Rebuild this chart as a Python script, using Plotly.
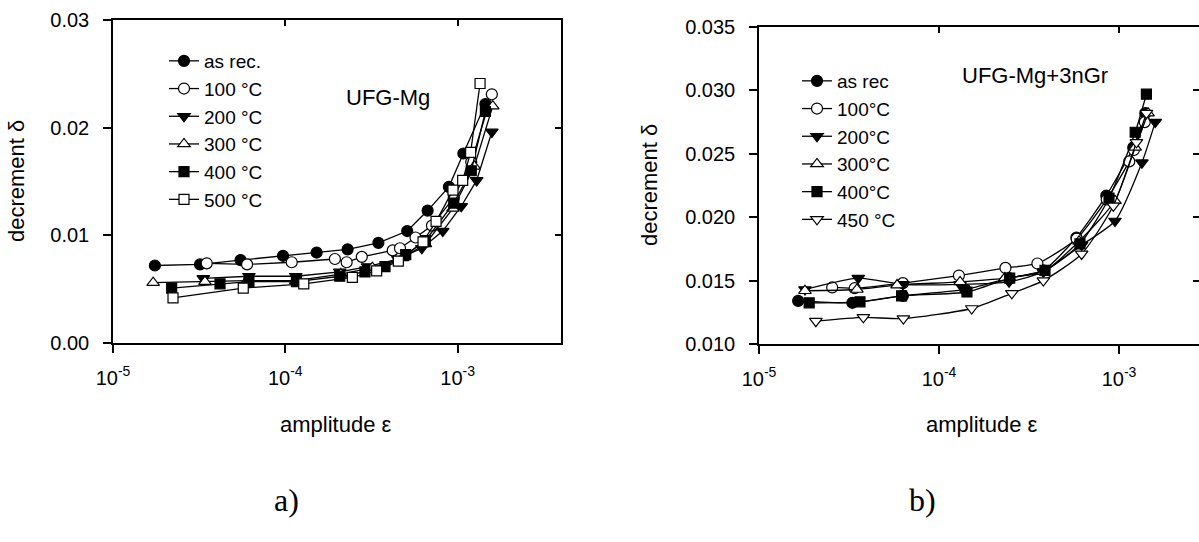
import plotly.graph_objects as go

W, H = 1199, 542

# ---------------- data: panel a) UFG-Mg ----------------
a_names = ["as rec.", "100 °C", "200 °C", "300 °C", "400 °C", "500 °C"]

a_asrec_x = [1.75e-5, 3.2e-5, 5.5e-5, 9.7e-5, 1.52e-4, 2.3e-4, 3.47e-4, 5.1e-4, 6.7e-4, 8.9e-4, 1.08e-3, 1.45e-3]
a_asrec_y = [0.0072, 0.0073, 0.0077, 0.0081, 0.0084, 0.0087, 0.0093, 0.0104, 0.0123, 0.0145, 0.0176, 0.0222]

a_100_x = [3.5e-5, 6.0e-5, 1.09e-4, 1.94e-4, 2.27e-4, 2.78e-4, 4.2e-4, 4.63e-4, 5.7e-4, 7.1e-4, 9.5e-4, 1.2e-3, 1.58e-3]
a_100_y = [0.0074, 0.0073, 0.0075, 0.0078, 0.0075, 0.0080, 0.0086, 0.0088, 0.0098, 0.0109, 0.0135, 0.0168, 0.0231]

a_200_x = [3.34e-5, 6.15e-5, 1.15e-4, 2.07e-4, 3.0e-4, 4.5e-4, 6.2e-4, 8.2e-4, 1.05e-3, 1.29e-3, 1.58e-3]
a_200_y = [0.0060, 0.0062, 0.0062, 0.0066, 0.0071, 0.0078, 0.0088, 0.0104, 0.0127, 0.0151, 0.0196]

a_300_x = [1.71e-5, 3.42e-5, 6.0e-5, 1.15e-4, 2.1e-4, 3.2e-4, 4.8e-4, 6.5e-4, 9.4e-4, 1.25e-3, 1.6e-3]
a_300_y = [0.0056, 0.0057, 0.0058, 0.0058, 0.0064, 0.0070, 0.0079, 0.0092, 0.0125, 0.0164, 0.0220]

a_400_x = [2.19e-5, 4.18e-5, 6.15e-5, 1.16e-4, 2.07e-4, 2.9e-4, 3.79e-4, 5.0e-4, 6.5e-4, 9.5e-4, 1.2e-3, 1.45e-3]
a_400_y = [0.0051, 0.0055, 0.0057, 0.0057, 0.0062, 0.0066, 0.0071, 0.0082, 0.0095, 0.0130, 0.0160, 0.0215]

a_500_x = [2.23e-5, 5.7e-5, 1.28e-4, 2.45e-4, 3.39e-4, 4.53e-4, 6.3e-4, 7.5e-4, 9.4e-4, 1.07e-3, 1.19e-3, 1.35e-3]
a_500_y = [0.0042, 0.0051, 0.0055, 0.0061, 0.0067, 0.0076, 0.0094, 0.0113, 0.0142, 0.0151, 0.0177, 0.0241]

# ---------------- data: panel b) UFG-Mg+3nGr ----------------
b_names = ["as rec", "100°C", "200°C", "300°C", "400°C", "450 °C"]

b_asrec_x = [1.65e-5, 3.3e-5, 6.3e-5, 1.4e-4, 2.45e-4, 3.8e-4, 5.8e-4, 8.5e-4, 1.2e-3, 1.4e-3]
b_asrec_y = [0.0134, 0.01325, 0.0138, 0.0143, 0.0152, 0.0158, 0.0184, 0.0217, 0.0255, 0.0282]

b_100_x = [2.55e-5, 3.4e-5, 6.3e-5, 1.29e-4, 2.34e-4, 3.52e-4, 5.82e-4, 8.55e-4, 1.14e-3, 1.21e-3, 1.39e-3]
b_100_y = [0.01446, 0.0144, 0.0148, 0.0154, 0.0160, 0.01635, 0.0183, 0.0214, 0.0244, 0.0253, 0.0275]

b_200_x = [1.8e-5, 3.56e-5, 6.3e-5, 1.31e-4, 2.45e-4, 3.8e-4, 6.2e-4, 9.5e-4, 1.34e-3, 1.59e-3]
b_200_y = [0.0143, 0.0152, 0.0147, 0.0147, 0.0149, 0.0157, 0.0178, 0.0197, 0.0243, 0.0275]

b_300_x = [1.8e-5, 3.5e-5, 5.85e-5, 1.31e-4, 2.32e-4, 3.8e-4, 6.0e-4, 9.5e-4, 1.23e-3, 1.45e-3]
b_300_y = [0.0142, 0.0143, 0.01465, 0.0149, 0.0152, 0.0157, 0.0181, 0.0213, 0.0255, 0.0282]

b_400_x = [1.9e-5, 3.64e-5, 6.2e-5, 1.43e-4, 2.47e-4, 3.88e-4, 6.07e-4, 8.8e-4, 1.23e-3, 1.42e-3]
b_400_y = [0.01325, 0.01333, 0.0138, 0.0141, 0.0152, 0.0158, 0.0179, 0.0215, 0.0267, 0.0297]

b_450_x = [2.07e-5, 3.8e-5, 6.34e-5, 1.52e-4, 2.54e-4, 3.8e-4, 6.2e-4, 9.3e-4, 1.25e-3, 1.42e-3]
b_450_y = [0.0118, 0.0121, 0.0120, 0.0128, 0.0140, 0.0150, 0.0171, 0.0209, 0.0259, 0.0282]

x_tickvals = [1e-5, 1e-4, 1e-3]
x_ticktext = ["10<sup>-5</sup>", "10<sup>-4</sup>", "10<sup>-3</sup>"]
a_yticks = [0.0, 0.01, 0.02, 0.03]
b_yticks = [0.010, 0.015, 0.020, 0.025, 0.030, 0.035]

FONT = "Liberation Sans, Arial, sans-serif"

a_series = [(a_asrec_x, a_asrec_y), (a_100_x, a_100_y), (a_200_x, a_200_y),
            (a_300_x, a_300_y), (a_400_x, a_400_y), (a_500_x, a_500_y)]
b_series = [(b_asrec_x, b_asrec_y), (b_100_x, b_100_y), (b_200_x, b_200_y),
            (b_300_x, b_300_y), (b_400_x, b_400_y), (b_450_x, b_450_y)]

a_styles = [("circle", "black"), ("circle", "white"), ("triangle-down", "black"),
            ("triangle-up", "white"), ("square", "black"), ("square", "white")]
b_styles = [("circle", "black"), ("circle", "white"), ("triangle-down", "black"),
            ("triangle-up", "white"), ("square", "black"), ("triangle-down", "white")]

fig = go.Figure()

def add_series(series, names, styles, xa, ya, legend, shape):
    for (xs, ys), nm, (sym, col) in zip(series, names, styles):
        size = 10 if sym == "square" else 11
        fig.add_trace(go.Scatter(
            x=xs, y=ys, name=nm, mode="lines+markers",
            xaxis=xa, yaxis=ya, legend=legend,
            line=dict(color="black", width=1.3, shape=shape, smoothing=0.6),
            marker=dict(symbol=sym, color=col, size=size,
                        line=dict(color="black", width=1.2)),
        ))

add_series(a_series, a_names, a_styles, "x", "y", "legend", "linear")
add_series(b_series, b_names, b_styles, "x2", "y2", "legend2", "spline")

# invisible helper traces so that the mirror (inside-tick) axes are drawn
fig.add_trace(go.Scatter(x=[1e-4], y=[0.015], xaxis="x3", yaxis="y3", mode="markers",
                         marker=dict(opacity=0), showlegend=False, hoverinfo="skip"))
fig.add_trace(go.Scatter(x=[1e-4], y=[0.02], xaxis="x4", yaxis="y4", mode="markers",
                         marker=dict(opacity=0), showlegend=False, hoverinfo="skip"))

tickfont = dict(family=FONT, size=20, color="black")
a_xrange = [-5, -5 + (561 - 113) / 172.3]
b_xrange = [-5, -5 + (1199 - 759) / 180.0]
a_xdom = [113 / W, 561 / W]
b_xdom = [759 / W, 1.0]
a_ydom = [1 - 343 / H, 1 - 20 / H]
b_ydom = [1 - 344 / H, 1 - 27 / H]

common_x = dict(type="log", tickvals=x_tickvals, ticktext=x_ticktext, ticks="outside",
                ticklen=8, tickwidth=1.5, tickcolor="black", showline=True, linecolor="black",
                linewidth=1.5, showgrid=False, zeroline=False, tickfont=tickfont,
                ticklabelstandoff=8, automargin=False)
common_y = dict(ticks="outside", ticklen=8, tickwidth=1.5, tickcolor="black", showline=True,
                linecolor="black", linewidth=1.5, showgrid=False, zeroline=False,
                tickfont=tickfont, ticklabelstandoff=10, automargin=False)
mirror_x = dict(type="log", tickvals=x_tickvals, ticks="inside", ticklen=6, tickwidth=1.5,
                tickcolor="black", showticklabels=False, showgrid=False, zeroline=False,
                showline=True, linecolor="black", linewidth=1.5, automargin=False)
mirror_y = dict(ticks="inside", ticklen=6, tickwidth=1.5, tickcolor="black",
                showticklabels=False, showgrid=False, zeroline=False,
                linecolor="black", linewidth=1.5, automargin=False)

fig.update_layout(
    width=W, height=H, paper_bgcolor="white", plot_bgcolor="white",
    margin=dict(l=0, r=0, t=0, b=0, autoexpand=False), showlegend=True,
    font=dict(family=FONT, size=20, color="black"),
    xaxis=dict(domain=a_xdom, range=a_xrange, anchor="y", **common_x),
    yaxis=dict(domain=a_ydom, range=[0, 0.03], anchor="x", tickvals=a_yticks,
               tickformat=".2f", **common_y),
    xaxis2=dict(domain=b_xdom, range=b_xrange, anchor="y2", **common_x),
    yaxis2=dict(domain=b_ydom, range=[0.010, 0.035], anchor="x2", tickvals=b_yticks,
                tickformat=".3f", **common_y),
    xaxis3=dict(overlaying="x", side="top", anchor="y", range=a_xrange, **mirror_x),
    yaxis3=dict(overlaying="y", side="right", anchor="x", range=[0, 0.03],
                tickvals=a_yticks, showline=True, **mirror_y),
    xaxis4=dict(overlaying="x2", side="top", anchor="y2", range=b_xrange, **mirror_x),
    yaxis4=dict(overlaying="y2", side="right", anchor="x2", range=[0.010, 0.035],
                tickvals=b_yticks, showline=False, **mirror_y),
    legend=dict(x=164 / W, y=1 - 42 / H, xanchor="left", yanchor="top",
                bgcolor="rgba(0,0,0,0)", font=dict(family=FONT, size=19),
                itemwidth=30),
    legend2=dict(x=797 / W, y=1 - 62 / H, xanchor="left", yanchor="top",
                 bgcolor="rgba(0,0,0,0)", font=dict(family=FONT, size=19),
                 itemwidth=30),
)

ann_font = dict(family=FONT, size=22, color="black")
annotations = [
    dict(text="decrement δ", x=16 / W, y=1 - 181 / H, textangle=-90, font=ann_font),
    dict(text="decrement δ", x=650 / W, y=1 - 185 / H, textangle=-90, font=ann_font),
    dict(text="amplitude ε", x=336 / W, y=1 - 424 / H, font=ann_font),
    dict(text="amplitude ε", x=982 / W, y=1 - 424 / H, font=ann_font),
    dict(text="UFG-Mg", x=388 / W, y=1 - 97 / H, font=dict(family=FONT, size=22, color="black")),
    dict(text="UFG-Mg+3nGr", x=1035 / W, y=1 - 75 / H, font=dict(family=FONT, size=22, color="black")),
    dict(text="a)", x=286 / W, y=1 - 500 / H,
         font=dict(family="Liberation Serif, Times New Roman, serif", size=32, color="black")),
    dict(text="b)", x=922 / W, y=1 - 500 / H,
         font=dict(family="Liberation Serif, Times New Roman, serif", size=32, color="black")),
]
for a in annotations:
    a.update(xref="paper", yref="paper", showarrow=False, xanchor="center", yanchor="middle")
fig.update_layout(annotations=annotations)

fig.write_html("out.html", config={"displayModeBar": False},
               post_script="document.body.style.margin='0px';document.body.style.overflow='hidden';")
